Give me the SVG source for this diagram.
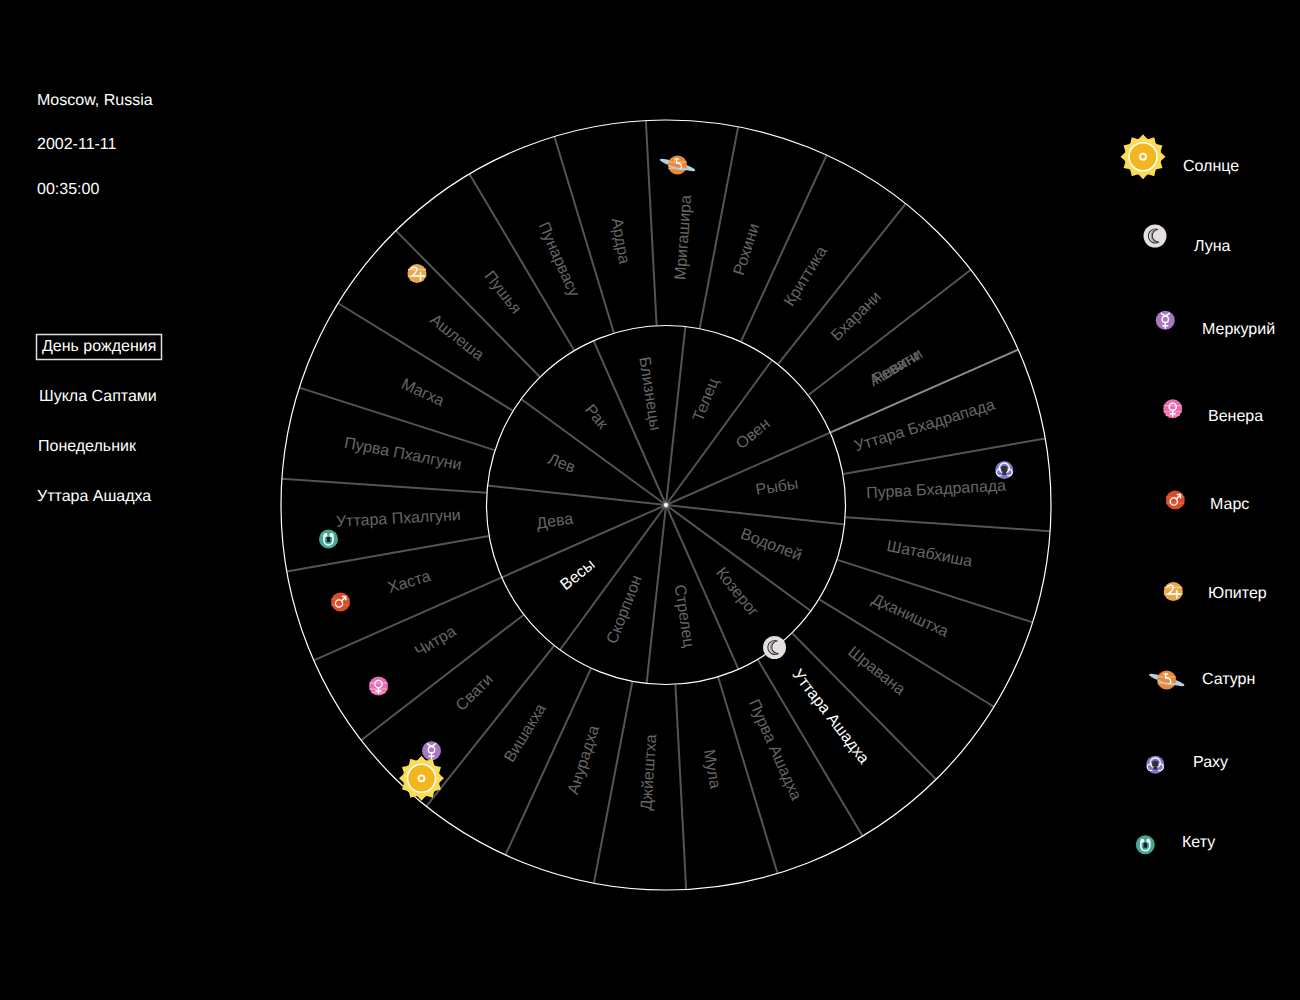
<svg xmlns="http://www.w3.org/2000/svg" xmlns:xlink="http://www.w3.org/1999/xlink" width="1300" height="1000" viewBox="0 0 1300 1000">
<style>
text{font-family:"Liberation Sans",Arial,sans-serif;font-size:16px;fill:#fff;text-rendering:geometricPrecision}
.l{fill:#666;text-anchor:middle}
.on{fill:#fff;text-anchor:middle}
.s{stroke:#fff;stroke-opacity:.33;stroke-width:2;fill:none}
.c{fill:none;stroke:#fff;stroke-width:1.2}
.g{fill:none;stroke:#fff;stroke-width:1.4;stroke-linecap:round}
</style>
<defs>
<path id="sp" d="M-5 -17 L0 -22.5 L5 -17Z" fill="#fbdc54"/>
<g id="sun">
<circle r="18.5" fill="#fbdc54"/>
<use xlink:href="#sp"/><use xlink:href="#sp" transform="rotate(30)"/><use xlink:href="#sp" transform="rotate(60)"/><use xlink:href="#sp" transform="rotate(90)"/><use xlink:href="#sp" transform="rotate(120)"/><use xlink:href="#sp" transform="rotate(150)"/><use xlink:href="#sp" transform="rotate(180)"/><use xlink:href="#sp" transform="rotate(210)"/><use xlink:href="#sp" transform="rotate(240)"/><use xlink:href="#sp" transform="rotate(270)"/><use xlink:href="#sp" transform="rotate(300)"/><use xlink:href="#sp" transform="rotate(330)"/>
<circle r="14" fill="#f3b61f" stroke="#fff" stroke-width="1.6"/>
<circle r="3" fill="#f3b61f" stroke="#fff" stroke-width="1.8"/>
</g>
<g id="moon">
<circle r="11.5" fill="#e4dfe1"/>
<path d="M3 -6.5A7 7 0 1 0 4 6 A6 6 0 1 1 3 -6.5Z" fill="none" stroke="#333" stroke-width="1.1"/>
<path d="M0 -6.5A7 7 0 0 0 1 6.5" fill="none" stroke="#888" stroke-width="1"/>
</g>
<g id="mercury">
<circle r="9.5" fill="#a878c4"/>
<circle cy="-1" r="3.2" class="g"/><path class="g" d="M-4 -7Q0 -2.5 4 -7M0 2.2V8M-2.5 5.5H2.5"/>
</g>
<g id="venus">
<circle r="9.5" fill="#e86cb0"/>
<path d="M-9 -3H9M-9 3H9M-7 6.5H7" stroke="#f59ccb" stroke-width="1.3"/>
<circle cy="-2" r="3.6" class="g"/><path class="g" d="M0 1.6V7.5M-2.5 5H2.5"/>
</g>
<g id="mars">
<circle r="9.5" fill="#d84c2a"/>
<path d="M-9 -3H9M-9 3H9" stroke="#e0633f" stroke-width="1.3"/>
<circle cx="-1.5" cy="1.5" r="3.6" class="g"/><path class="g" d="M1 -1L5 -5M2 -5.5H5.2V-2.3"/>
</g>
<g id="jupiter">
<circle r="9.5" fill="#e8a94e"/>
<path d="M-9 -4H9M-9.3 2.5H9.3" stroke="#f4c98c" stroke-width="1.6"/>
<path d="M-6 -5Q-1 -8 0 -4.5Q0 -1.5 -5 2.5H7M3.5 -1V6.5" class="g" stroke-width="1.2"/>
</g>
<g id="saturn">
<ellipse rx="18.5" ry="3" fill="#b7cfde" transform="rotate(17)"/>
<circle r="9.5" fill="#e98a3a"/>
<path d="M-9 -3H9M-9 3.500H9" stroke="#f2ac6c" stroke-width="1.5"/>
<path d="M-2.5 -6H1M-1 -6V-2Q4 -2 4 1.5Q4 4 1.5 4" class="g" stroke-width="1.2"/>
<path d="M-9 .5Q0 5 9.5 4.5" stroke="#b7cfde" stroke-width="1.4" fill="none"/>
</g>
<g id="rahu">
<circle r="9" fill="#8079cf"/>
<path d="M-3 5.5A3.4 3.4 0 1 1 -1.2 3A5 5 0 1 1 1.2 3A3.4 3.4 0 1 1 3 5.5" fill="none" stroke="#fff" stroke-width="1.2"/>
<circle cy="-1" r="3.3" fill="#333"/>
<path d="M-2 2H2V5H-2Z" fill="#333"/>
</g>
<g id="ketu">
<circle r="9.5" fill="#45a892"/>
<path d="M-4.5 -3.5V1.5A4.5 4.5 0 0 0 4.5 1.5V-3.5" fill="none" stroke="#fff" stroke-width="1.6"/>
<circle cx="-3" cy="-4" r="2" fill="#fff"/><circle cx="3" cy="-4" r="2" fill="#fff"/>
<path d="M-1.8 -2V3H1.8V-2Z" fill="#123"/>
</g>
</defs>
<rect width="1300" height="1000" fill="#000"/>
<g id="connectors">
<g class="s">
<path d="M666 505H846" transform="rotate(-23.8 666 505)"/>
<path d="M666 505H846" transform="rotate(-53.8 666 505)"/>
<path d="M666 505H846" transform="rotate(-83.8 666 505)"/>
<path d="M666 505H846" transform="rotate(-113.8 666 505)"/>
<path d="M666 505H846" transform="rotate(-143.8 666 505)"/>
<path d="M666 505H846" transform="rotate(-173.8 666 505)"/>
<path d="M666 505H846" transform="rotate(-203.8 666 505)"/>
<path d="M666 505H846" transform="rotate(-233.8 666 505)"/>
<path d="M666 505H846" transform="rotate(-263.8 666 505)"/>
<path d="M666 505H846" transform="rotate(-293.8 666 505)"/>
<path d="M666 505H846" transform="rotate(-323.8 666 505)"/>
<path d="M666 505H846" transform="rotate(-353.8 666 505)"/>
</g>
<g class="s">
<path d="M846 505H1051" transform="rotate(-23.8 666 505)"/>
<path d="M846 505H1051" transform="rotate(-23.8 666 505)"/>
<path d="M846 505H1051" transform="rotate(-37.65 666 505)"/>
<path d="M846 505H1051" transform="rotate(-51.5 666 505)"/>
<path d="M846 505H1051" transform="rotate(-65.35 666 505)"/>
<path d="M846 505H1051" transform="rotate(-79.2 666 505)"/>
<path d="M846 505H1051" transform="rotate(-93 666 505)"/>
<path d="M846 505H1051" transform="rotate(-106.85 666 505)"/>
<path d="M846 505H1051" transform="rotate(-120.7 666 505)"/>
<path d="M846 505H1051" transform="rotate(-134.55 666 505)"/>
<path d="M846 505H1051" transform="rotate(-148.4 666 505)"/>
<path d="M846 505H1051" transform="rotate(-162.25 666 505)"/>
<path d="M846 505H1051" transform="rotate(-176.1 666 505)"/>
<path d="M846 505H1051" transform="rotate(-189.95 666 505)"/>
<path d="M846 505H1051" transform="rotate(-203.8 666 505)"/>
<path d="M846 505H1051" transform="rotate(-217.65 666 505)"/>
<path d="M846 505H1051" transform="rotate(-231.5 666 505)"/>
<path d="M846 505H1051" transform="rotate(-245.35 666 505)"/>
<path d="M846 505H1051" transform="rotate(-259.2 666 505)"/>
<path d="M846 505H1051" transform="rotate(-273 666 505)"/>
<path d="M846 505H1051" transform="rotate(-286.85 666 505)"/>
<path d="M846 505H1051" transform="rotate(-300.7 666 505)"/>
<path d="M846 505H1051" transform="rotate(-314.55 666 505)"/>
<path d="M846 505H1051" transform="rotate(-328.4 666 505)"/>
<path d="M846 505H1051" transform="rotate(-342.25 666 505)"/>
<path d="M846 505H1051" transform="rotate(-356.1 666 505)"/>
<path d="M846 505H1051" transform="rotate(-9.95 666 505)"/>
</g>
</g>
<g id="wheel">
<circle class="c" cx="666" cy="505" r="385"/>
<circle class="c" cx="666" cy="505" r="179.5"/>
<circle cx="666" cy="505" r="2" fill="#fff"/>
</g>
<g id="rashis">
<text class="l" x="778.5" y="509" transform="rotate(-38.8 666 505)">Овен</text>
<text class="l" x="778.5" y="509" transform="rotate(-68.8 666 505)">Телец</text>
<text class="l" x="553.5" y="509" transform="rotate(81.2 666 505)">Близнецы</text>
<text class="l" x="553.5" y="509" transform="rotate(51.2 666 505)">Рак</text>
<text class="l" x="553.5" y="509" transform="rotate(21.2 666 505)">Лев</text>
<text class="l" x="553.5" y="509" transform="rotate(-8.8 666 505)">Дева</text>
<text class="on" x="553.5" y="509" transform="rotate(-38.8 666 505)">Весы</text>
<text class="l" x="553.5" y="509" transform="rotate(-68.8 666 505)">Скорпион</text>
<text class="l" x="778.5" y="509" transform="rotate(81.2 666 505)">Стрелец</text>
<text class="l" x="778.5" y="509" transform="rotate(51.2 666 505)">Козерог</text>
<text class="l" x="778.5" y="509" transform="rotate(21.2 666 505)">Водолей</text>
<text class="l" x="778.5" y="509" transform="rotate(-8.8 666 505)">Рыбы</text>
</g>
<g id="nakshatras">
<text class="l" x="934" y="509" transform="rotate(-30.7 666 505)">Ревати</text>
<text class="l" x="934" y="509" transform="rotate(-30.7 666 505)">Ашвини</text>
<text class="l" x="934" y="509" transform="rotate(-44.6 666 505)">Бхарани</text>
<text class="l" x="934" y="509" transform="rotate(-58.4 666 505)">Криттика</text>
<text class="l" x="934" y="509" transform="rotate(-72.3 666 505)">Рохини</text>
<text class="l" x="934" y="509" transform="rotate(-86.1 666 505)">Мригашира</text>
<text class="l" x="398" y="509" transform="rotate(80 666 505)">Ардра</text>
<text class="l" x="398" y="509" transform="rotate(66.2 666 505)">Пунарвасу</text>
<text class="l" x="398" y="509" transform="rotate(52.3 666 505)">Пушья</text>
<text class="l" x="398" y="509" transform="rotate(38.5 666 505)">Ашлеша</text>
<text class="l" x="398" y="509" transform="rotate(24.6 666 505)">Магха</text>
<text class="l" x="398" y="509" transform="rotate(10.8 666 505)">Пурва Пхалгуни</text>
<text class="l" x="398" y="509" transform="rotate(-3.1 666 505)">Уттара Пхалгуни</text>
<text class="l" x="398" y="509" transform="rotate(-16.9 666 505)">Хаста</text>
<text class="l" x="398" y="509" transform="rotate(-30.8 666 505)">Читра</text>
<text class="l" x="398" y="509" transform="rotate(-44.6 666 505)">Свати</text>
<text class="l" x="398" y="509" transform="rotate(-58.5 666 505)">Вишакха</text>
<text class="l" x="398" y="509" transform="rotate(-72.3 666 505)">Анурадха</text>
<text class="l" x="398" y="510.5" transform="rotate(-86.2 666 505)">Джйештха</text>
<text class="l" x="934" y="510.5" transform="rotate(80 666 505)">Мула</text>
<text class="l" x="934" y="509.5" transform="rotate(66.1 666 505)">Пурва Ашадха</text>
<text class="on" x="934" y="509" transform="rotate(52.3 666 505)">Уттара Ашадха</text>
<text class="l" x="934" y="509" transform="rotate(38.4 666 505)">Шравана</text>
<text class="l" x="934" y="509" transform="rotate(24.6 666 505)">Дхаништха</text>
<text class="l" x="934" y="509" transform="rotate(10.7 666 505)">Шатабхиша</text>
<text class="l" x="936.5" y="509" transform="rotate(-3.1 666 505)">Пурва Бхадрапада</text>
<text class="l" x="936.5" y="509" transform="rotate(-16.9 666 505)">Уттара Бхадрапада</text>
</g>
<g id="chart-planets">
<use id="p-mercury" xlink:href="#mercury" x="431.5" y="750.7"/>
<use id="p-sun" xlink:href="#sun" x="421.5" y="778.3"/>
<use id="p-moon" xlink:href="#moon" x="774.5" y="647.5"/>
<use id="p-venus" xlink:href="#venus" x="378.5" y="686"/>
<use id="p-mars" xlink:href="#mars" x="340.5" y="602"/>
<use id="p-jupiter" xlink:href="#jupiter" x="417" y="273.5"/>
<use id="p-saturn" xlink:href="#saturn" x="677.5" y="165"/>
<use id="p-rahu" xlink:href="#rahu" x="1004.3" y="470"/>
<use id="p-ketu" xlink:href="#ketu" x="328.5" y="539"/>
</g>
<g id="info">
<text x="37" y="105">Moscow, Russia</text>
<text x="37" y="149">2002-11-11</text>
<text x="37" y="194">00:35:00</text>
</g>
<g id="day-info">
<g id="birthday"><rect x="36.5" y="334.5" width="125" height="25" fill="none" stroke="#ddd" stroke-width="1.5"/><text x="42" y="351">День рождения</text></g>
<text x="39" y="401">Шукла Саптами</text>
<text x="38" y="451">Понедельник</text>
<text x="37" y="501">Уттара Ашадха</text>
</g>
<g id="legend">
<g id="l-sun"><use xlink:href="#sun" x="1143" y="156.7"/><text x="1183" y="171">Солнце</text></g>
<g id="l-moon"><use xlink:href="#moon" x="1155" y="236"/><text x="1194" y="251">Луна</text></g>
<g id="l-mercury"><use xlink:href="#mercury" x="1165.3" y="320.3"/><text x="1202" y="334">Меркурий</text></g>
<g id="l-venus"><use xlink:href="#venus" x="1172.7" y="408.7"/><text x="1208" y="421">Венера</text></g>
<g id="l-mars"><use xlink:href="#mars" x="1175.3" y="500"/><text x="1210" y="509">Марс</text></g>
<g id="l-jupiter"><use xlink:href="#jupiter" x="1173.3" y="591.5"/><text x="1208" y="598">Юпитер</text></g>
<g id="l-saturn"><use xlink:href="#saturn" x="1166.7" y="680"/><text x="1202" y="684">Сатурн</text></g>
<g id="l-rahu"><use xlink:href="#rahu" x="1155.3" y="764.7"/><text x="1193" y="767">Раху</text></g>
<g id="l-ketu"><use xlink:href="#ketu" x="1145.3" y="844.7"/><text x="1182" y="847">Кету</text></g>
</g>
</svg>
